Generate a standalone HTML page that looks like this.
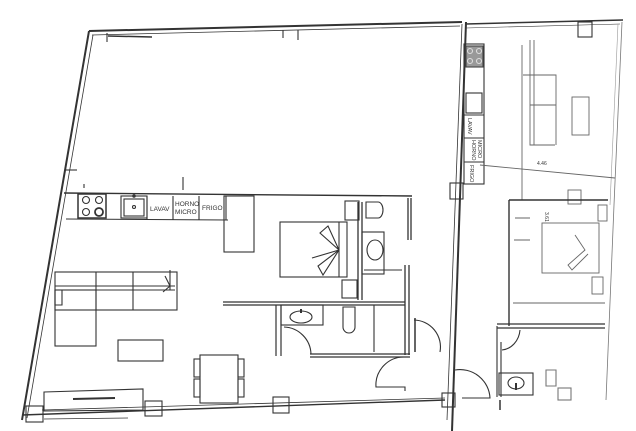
<!DOCTYPE html>
<html><head><meta charset="utf-8"><style>
html,body{margin:0;padding:0;background:#fff;width:636px;height:431px;overflow:hidden}
svg{display:block}
text{font-family:"Liberation Sans",sans-serif;fill:#333}
</style></head><body>
<svg width="636" height="431" viewBox="0 0 636 431" fill="none" stroke="#333" stroke-width="1.1">
<!-- outer walls left unit -->
<path d="M89 31 L462 22" stroke-width="2"/>
<path d="M92 35 L460 26" stroke-width="0.8"/>
<path d="M89 31 L22 420" stroke-width="2"/>
<path d="M93 35 L27 418" stroke-width="0.8"/>
<path d="M22 415 L445 400" stroke-width="1.4"/>
<path d="M42 410 L445 398" stroke-width="0.8"/>
<path d="M108 36 L152 37" stroke-width="1.5"/>
<path d="M107 33 V42"/><path d="M283 30 V38"/><path d="M298 30 V40"/>
<path d="M66 170 L77 170"/>
<!-- central divider -->
<path d="M466 22 L452 431" stroke-width="2"/>
<path d="M462 24 L447 420" stroke-width="0.8"/>
<!-- right unit outline -->
<path d="M466 24 L623 20" stroke-width="1.5"/>
<path d="M466 28 L620 24" stroke-width="0.6"/>
<path d="M622 22 L614 205 L606 400" stroke-width="0.8" stroke="#777"/>
<path d="M618 24 L610 205" stroke-width="0.6" stroke="#999"/>
<rect x="578" y="22" width="14" height="15"/>
<rect x="450" y="183" width="13" height="16"/>
<rect x="442" y="393" width="13" height="14"/>
<!-- kitchen left -->
<path d="M64 193 L412 196" stroke-width="1.4"/>
<path d="M66 219 L228 220"/>
<rect x="78" y="194" width="28" height="24" stroke-width="1.5"/>
<circle cx="86" cy="200" r="3.5"/><circle cx="99" cy="200" r="3.5"/>
<circle cx="86" cy="212" r="3.5"/><circle cx="99" cy="212" r="4" stroke-width="1.8"/>
<rect x="121" y="196" width="26" height="22"/>
<rect x="124" y="199" width="20" height="17"/>
<circle cx="134" cy="207" r="1.5"/><circle cx="134" cy="196" r="1.2"/>
<path d="M147 196 V220 M173 196 V220 M199 196 V220 M226 196 V220"/>
<g stroke="none" font-size="6.5">
<text x="150" y="211">LAVAV</text>
<text x="175" y="206">HORNO</text>
<text x="175" y="214">MICRO</text>
<text x="202" y="210">FRIGO</text>
</g>
<path d="M183 177 V190"/><path d="M84 184 V188"/>
<rect x="224" y="196" width="30" height="56"/>
<path d="M254 202 V250" stroke-width="0.7"/>
<!-- bedroom left -->
<rect x="280" y="222" width="67" height="55"/>
<path d="M339 222 V277"/>
<path d="M339 250 L320 233 L328 226 Z M339 250 L318 266 L323 275 Z M339 250 L312 258" />
<rect x="345" y="201" width="14" height="19"/>
<rect x="342" y="280" width="15" height="18"/>
<path d="M358 202 V300 M362 202 V300" stroke-width="1.3"/>
<path d="M366 202 h12 a5 8 0 0 1 0 16 h-12 Z"/>
<rect x="362" y="232" width="22" height="42"/>
<ellipse cx="375" cy="250" rx="8" ry="10"/>
<path d="M364 270 H402"/>
<path d="M408 198 V240 M411 198 V240" stroke-width="1.3"/>
<path d="M405 265 V355 M409 265 V355" stroke-width="1.3"/>
<!-- horizontal wall -->
<path d="M223 302 H405 M223 305 H405" stroke-width="1.2"/>
<!-- lower bathroom -->
<path d="M276 305 V356 M281 305 V356" stroke-width="1.2"/>
<rect x="281" y="305" width="42" height="20"/>
<ellipse cx="301" cy="317" rx="11" ry="6"/>
<path d="M301 309 V313" stroke-width="2"/>
<path d="M343 307 h12 v20 a6 6 0 0 1 -12 0 Z"/>
<path d="M374 305 V352"/>
<path d="M310 354 H410 M310 357 H410" stroke-width="1.2"/>
<path d="M284 327 A28 28 0 0 1 311 354" />
<path d="M414 320 A27 27 0 0 1 440 352"/>
<path d="M415 318 V352" stroke-width="1.5"/>
<path d="M404 357 A28 28 0 0 0 376 387 H405 V391"/>
<!-- sofa left -->
<rect x="55" y="272" width="122" height="38"/>
<path d="M55 286 H175 M55 290 H175"/>
<path d="M96 272 V310 M133 272 V310"/>
<rect x="55" y="290" width="41" height="56"/>
<path d="M55 290 V305 H62 V290"/>
<path d="M165 276 L170 286 L163 292 M170 270 L170 290"/>
<!-- coffee table -->
<rect x="118" y="340" width="45" height="21"/>
<!-- dining -->
<rect x="200" y="355" width="38" height="48"/>
<rect x="194" y="359" width="6" height="18"/><rect x="194" y="379" width="6" height="18"/>
<rect x="238" y="359" width="6" height="18"/><rect x="238" y="379" width="6" height="18"/>
<!-- tv unit -->
<path d="M44 392 L143 389 V410 L44 411 Z"/>
<path d="M73 399 L115 398" stroke-width="2"/>
<path d="M44 419 L128 418" stroke-width="0.8"/>
<rect x="145" y="401" width="17" height="15"/>
<rect x="273" y="397" width="16" height="16"/>
<rect x="26" y="406" width="17" height="16"/>
<!-- right unit kitchen -->
<rect x="464" y="44" width="20" height="140"/>
<rect x="466" y="46" width="17" height="21" fill="#999" stroke="#444"/>
<circle cx="470" cy="51" r="2.5" stroke="#ddd"/><circle cx="479" cy="51" r="2.5" stroke="#ddd"/>
<circle cx="470" cy="61" r="2.5" stroke="#ddd"/><circle cx="479" cy="61" r="2.5" stroke="#ddd"/>
<rect x="466" y="93" width="16" height="20"/>
<path d="M464 115 H484 M464 138 H484 M464 162 H484"/>
<g stroke="none" font-size="5.5">
<text transform="translate(468,118) rotate(90)">LAVAV</text>
<text transform="translate(472,140) rotate(90)">HORNO</text>
<text transform="translate(466,140) rotate(90)" x="0" y="0"> </text>
<text transform="translate(478,140) rotate(90)">MICRO</text>
<text transform="translate(470,165) rotate(90)">FRIGO</text>
</g>
<!-- right unit living -->
<g stroke="#666" stroke-width="0.9">
<path d="M530 40 V145 H555 M534 40 V145 M523 75 H556 V145 M530 105 H556"/>
<rect x="572" y="97" width="17" height="38"/>
<path d="M480 165 L615 178"/>
<path d="M522 45 V200"/>
<rect x="568" y="190" width="13" height="14"/>
</g>
<!-- right bedroom -->
<path d="M509 200 H608" stroke-width="1.4"/>
<path d="M509 200 V326" stroke-width="1.4"/>
<g stroke="#666" stroke-width="0.9">
<rect x="542" y="223" width="57" height="50"/>
<path d="M515 218 H530 M513 303 H605 M514 240 H530"/>
<path d="M575 235 L585 250 L568 265 L572 270 L588 254"/>
<rect x="598" y="205" width="9" height="16"/>
<rect x="592" y="277" width="11" height="17"/>
</g>
<g stroke="none" font-size="5"><text x="537" y="165">4.46</text><text transform="translate(545,212) rotate(90)">3.61</text></g>
<path d="M497 324 H605 M497 328 H605" stroke-width="1.2"/>
<path d="M497 326 V397 M501 342 V397"/>
<path d="M520 330 A20 22 0 0 1 502 350"/>
<rect x="499" y="373" width="34" height="22"/>
<ellipse cx="516" cy="383" rx="8" ry="6"/>
<path d="M516 383 V390" stroke-width="2"/>
<path d="M546 370 h10 v16 h-10 Z" stroke="#777"/>
<rect x="558" y="388" width="13" height="12" stroke="#777"/>
<path d="M455 370 A30 30 0 0 1 490 398 H462" />
<path d="M500 400 V410" stroke-width="1.5"/>
</svg>
</body></html>
